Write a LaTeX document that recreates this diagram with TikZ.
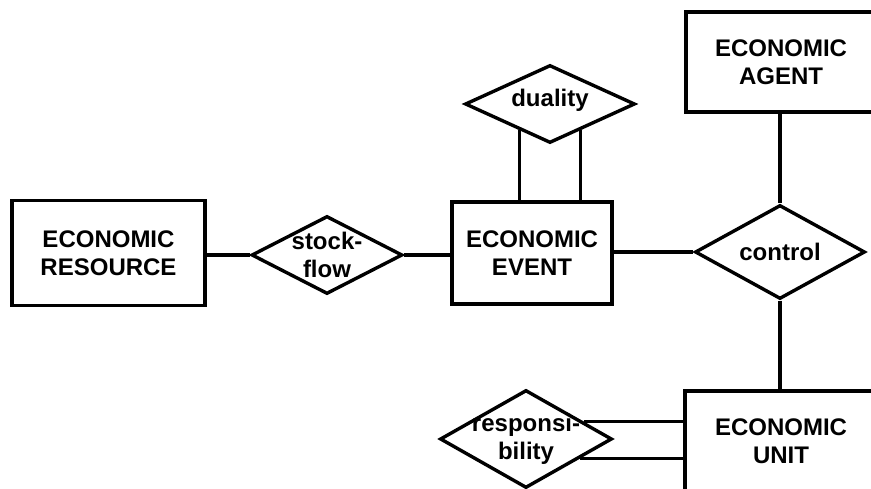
\documentclass[tikz,border=0pt]{standalone}
\usepackage{fontspec}
\setmainfont{Liberation Sans}
\usetikzlibrary{shapes.geometric, calc}

\begin{document}
\begin{tikzpicture}[x=1pt, y=-1pt, line width=3.4pt, font=\fontsize{24}{28}\selectfont\bfseries,
        ent/.style={draw, rectangle, fill=white, align=center, inner sep=0pt},
        rel/.style={draw, diamond, fill=white, inner sep=0pt},
        txt/.style={align=center, inner sep=0pt, font=\fontsize{24}{28}\selectfont\bfseries}]

    \clip (0,0) rectangle (871,489);

    % entiteiten
    \node[ent, minimum width=193pt, minimum height=105pt] (res) at (108.5,253) {ECONOMIC\\RESOURCE};
    \node[ent, minimum width=160pt, minimum height=102pt] (ev) at (532,253) {ECONOMIC\\EVENT};
    \node[ent, minimum width=206pt, minimum height=100pt, label={[txt, xshift=-8pt]center:{ECONOMIC\\AGENT}}] (agent) at (789,62) {};
    \node[ent, minimum width=208pt, minimum height=100pt, label={[txt, xshift=-8pt]center:{ECONOMIC\\UNIT}}] (unit) at (789,441) {};

    % relaties
    \node[rel, minimum width=151pt, minimum height=78pt, label={[txt]center:{stock-\\flow}}] (sf) at (327,255) {};
    \node[rel, minimum width=170pt, minimum height=78pt, label={[txt, yshift=4pt]center:duality}] (dual) at (550,104) {};
    \node[rel, minimum width=170pt, minimum height=94pt, label={[txt]center:control}] (ctl) at (780,252) {};
    \node[rel, minimum width=172pt, minimum height=98pt, label={[txt]center:{responsi-\\bility}}] (resp) at (526,439) {};

    % verbindingen
    \draw (res.east |- sf.west) -- (sf.west);
    \draw (sf.east) -- (sf.east -| ev.west);
    \draw (ev.east |- ctl.west) -- (ctl.west);
    \draw (agent.south -| ctl.north) -- (ctl.north);
    \draw (ctl.south) -- (ctl.south |- unit.north);

    % dubbele lijnen
    \coordinate (d1) at ($(dual.south)!0.35!(dual.west)$);
    \coordinate (d2) at ($(dual.south)!0.35!(dual.east)$);
    \draw (d1) -- (d1 |- ev.north);
    \draw (d2) -- (d2 |- ev.north);
    \coordinate (r1) at ($(resp.east)!0.34!(resp.north)$);
    \coordinate (r2) at ($(resp.east)!0.38!(resp.south)$);
    \draw (r1) -- (r1 -| unit.west);
    \draw (r2) -- (r2 -| unit.west);

\end{tikzpicture}
\end{document}
